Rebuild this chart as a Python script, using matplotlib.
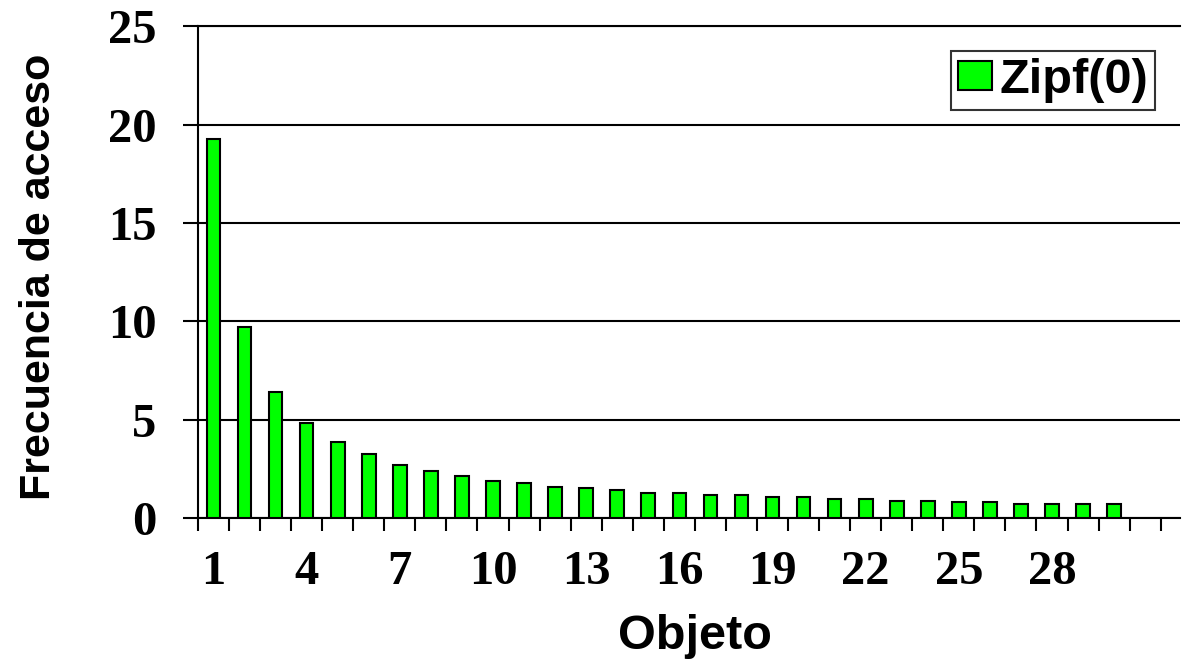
import numpy as np
import matplotlib
matplotlib.use("Agg")
import matplotlib.pyplot as plt

# Access frequency per object (Zipf distribution, alpha = 0)
objetos = list(range(1, 31))
frecuencia = [19.3, 9.7, 6.4, 4.85, 3.85, 3.25, 2.7, 2.4, 2.15, 1.9,
              1.8, 1.6, 1.5, 1.4, 1.25, 1.25, 1.15, 1.15, 1.05, 1.05,
              0.95, 0.95, 0.85, 0.85, 0.8, 0.8, 0.7, 0.7, 0.7, 0.7]
serie = "Zipf(0)"
etiquetas_x = [1, 4, 7, 10, 13, 16, 19, 22, 25, 28]
ticks_y = [0, 5, 10, 15, 20, 25]

fig = plt.figure(figsize=(11.84, 6.64), dpi=100)
ax = fig.add_axes([0.1672, 0.2199, 0.8294, 0.7402])

ax.bar(objetos, frecuencia, width=0.44, color="#00FF00",
       edgecolor="black", linewidth=1.5, label=serie, zorder=3)

ax.set_ylim(0, 25)
ax.set_xlim(0.5, 32.12)

# category boundaries as tick marks, labels every third object
ax.set_xticks(np.arange(0.5, 32, 1.0))
ax.set_xticklabels([])
ax.tick_params(axis="x", which="major", direction="out", length=9.5,
               width=1.5, color="black")
ax.set_xticks(etiquetas_x, minor=True)
ax.set_xticklabels([str(v) for v in etiquetas_x], minor=True,
                   fontfamily="Liberation Serif", fontweight="bold", fontsize=35)
ax.tick_params(axis="x", which="minor", length=0, pad=23)

ax.set_yticks(ticks_y)
ax.set_yticklabels([str(v) for v in ticks_y],
                   fontfamily="Liberation Serif", fontweight="bold", fontsize=35)
ax.tick_params(axis="y", direction="out", length=10.8, width=1.5,
               color="black", pad=19)

ax.yaxis.grid(True, color="black", linewidth=1.5, zorder=0)
ax.set_axisbelow(True)
for lado in ["left", "bottom", "top"]:
    ax.spines[lado].set_linewidth(1.5)
    ax.spines[lado].set_color("black")
ax.spines["right"].set_visible(False)

ax.set_xlabel("Objeto", fontfamily="Liberation Sans", fontweight="bold",
              fontsize=35)
ax.xaxis.set_label_coords(0.506, -0.195)
ax.set_ylabel("Frecuencia de acceso", fontfamily="Liberation Sans",
              fontweight="bold", fontsize=31)
ax.yaxis.set_label_coords(-0.142, 0.49)

leg = ax.legend(loc="center", bbox_to_anchor=(1053 / 1184, 1 - 80.5 / 664),
                bbox_transform=fig.transFigure, fancybox=False, shadow=False,
                frameon=True, handlelength=0.7, handleheight=0.55,
                handletextpad=0.15, borderpad=0.15, borderaxespad=0,
                prop={"family": "Liberation Sans", "weight": "bold", "size": 35})
leg.get_frame().set_edgecolor("black")
leg.get_frame().set_linewidth(1.5)

fig.savefig("out.png", dpi=100)
